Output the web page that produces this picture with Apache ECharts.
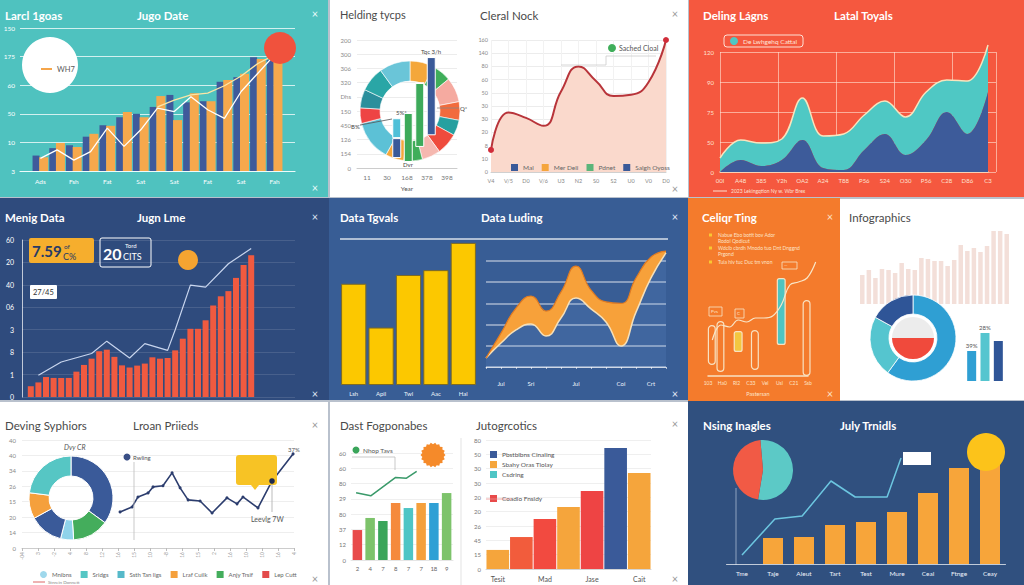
<!DOCTYPE html>
<html><head><meta charset="utf-8">
<script src="https://cdn.jsdelivr.net/npm/echarts@6/dist/echarts.min.js"></script>
<style>html,body{margin:0;padding:0;background:#b9c1cd;}#c{width:1024px;height:585px;}</style>
</head><body><div id="c"></div>
<script>
// ================= DATA =================
// Panel 1 (teal)
const p1Cats = ['Ads','','Fsh','','Fat','','Sat','','Sat','','Fat','','Sat','','Fah'];
const p1Navy = [27,40,45,60,80,94,100,112,133,120,122,156,164,199,194];
const p1Orange = [24,49,42,65,79,103,94,131,89,136,122,159,170,196,211];
const p1LineA = [22,37,19,34,75,43,72,110,104,130,107,92,139,171,203];
const p1LineB = [null,null,null,null,null,null,null,112,124,133,136,149,166,188,203];
const p1YLabels = ['3','10','50','60','175','150'];
// Panel 2 left (donut + bars)
const p2YLabels = ['0','154','126','450','150','Dhs','320','306','300','200'];
const p2Cats = ['11','30','168','378','398'];
const p2Donut = [8,6,8,6,5,7,6,6,6,13,5,6,8,10];
const p2BarCats = ['a','b','c','d'];
const p2BarBase = [0.7,0.42,1.48,2.3];
const p2BarLow = [1.4,3.45,4.5,5.5];
const p2BarHigh = [1.4,0,0,0];
// Panel 2 right (area line)
const p2bYLabels = ['0','10','8','20','30','30','50','60','80','140','160'];
const p2bCats = ['V4','V/5','D0','V/6','U3','N2','S0','S2','U0','V0','D0'];
const p2bVals = [1.67,4.5,4.1,3.5,6.1,8.0,6.9,5.75,5.85,6.8,10];
const p2bLegend = ['Mal','Mer Deli','Pdnet','Salgh Oyoss'];
// Panel 3 (red, stacked area)
const p3Cats = ['00l','A48','385','Y2h','OA2','A24','T88','P56','S24','O30','P56','C28','D86','C3'];
const p3Navy = [0,12,6,12,32,4,2,22,38,17,32,60,38,80];
const p3Teal = [14,20,23,21,42,32,36,35,33,38,48,32,53,47];
const p3YLabels = ['0','50','75','90','120'];
// Panel 4 (navy, red bars)
const p4Cats = ['1','2','3','4','5','6','7','8','9','10','11','12','13','14','15','16','17','18','19','20','21','22','23','24','25','26','27','28','29','30'];
const p4Bars = [0.48,0.65,0.89,0.85,0.85,0.85,1.13,1.43,1.71,2.04,2.11,1.79,1.41,1.32,1.40,1.49,1.77,1.71,1.74,2.08,2.60,3.04,3.04,3.42,4.08,4.49,4.72,5.31,5.88,6.32];
const p4Line = [null,0.97,null,null,1.56,null,null,null,1.94,null,2.49,null,null,1.74,null,2.38,null,null,2.08,3.0,null,4.99,null,4.9,null,null,5.94,null,null,6.62];
const p4YLabels = ['0','1','8','3','06','40','20','60'];
// Panel 5 (blue)
const p5Cats = ['Lsh','Apil','Twl','Aac','Hal'];
const p5Bars = [104,59,113,118,146];
const p5XLabels = ['','Jul','','Sri','','','Jul','','','Coi','','Crt',''];
const p5Upper = [0.42,1.6,2.78,3.35,2.64,3.54,4.76,3.63,3.07,3.0,4.2,5.19,5.47];
const p5Lower = [0.42,1.13,1.75,2.03,1.46,2.31,3.25,2.74,2.12,0.99,2.59,4.2,5.38];
// Panel 6 (orange)
const p6Cats = ['103','Ha0','Rl2','C33','Vel','Usl','C21','Ssb'];
const p6Fine = ['a','b','c','d','e','f','g','h','i','j','k','l','m'];
const p6Line = [36,51,49,56,54,58,58,60,71,91,94,98,114];
const p6OutBase = [11,4,0,0,0,6,0,0,0,0,0,0,0];
const p6OutH = [40,51,null,null,null,40,null,null,null,null,null,76,null];
const p6FillBase = [0,0,0,24,0,0,0,0,31,0,0,0,0];
const p6FillH = [null,null,null,21,null,null,null,null,67,null,null,null,null];
// Panel 7 (white infographic)
const p7Bars = [29,34,26,35,34,31,41,35,34,46,45,43,43,38,44,59,53,56,52,58,73,73,70];
const p7Donut = [60,23,17];
const p7Inner = [50,50];
const p7Small = [30,48,40];
const p7SmallLabels = ['39%','28%',''];
// Panel 8
const p8Donut = [35,14,5,13,10,23];
const p8YLabels = ['0','14','20','15','26','34','40','40'];
const p8XLabels = ['-04','3','-2','4','8','12','16','15','10','-8','16','15','2','16','10','10','16','4'];
const p8Line = [[6.13,2.34],[6.88,2.66],[7.25,3.31],[7.88,3.57],[8.19,3.96],[8.81,4.03],[9.38,4.87],[9.88,3.9],[10.38,3.12],[11.13,3.05],[11.88,2.27],[12.81,3.25],[13.44,2.86],[13.81,3.31],[14.75,2.6],[15.63,4.35],[16.94,6.1]];
const p8Legend = ['Mnibns','Sridgs','Ssth Tan ligs','Lraf Cuilk','Anjy Trsif','Lep Cutt'];
// Panel 9
const p9aCats = ['2','4','7','8','7','7','18','9'];
const p9aBars = [1.96,2.75,2.55,3.73,3.4,3.73,3.73,4.38];
const p9aLine = [[-0.1,4.4],[1.05,4.2],[3.0,5.4],[3.85,5.35],[4.65,5.8]];
const p9aYLabels = ['0','12','37','80','29','80','60','60'];
const p9bCats = ['Tesit','','Mad','','Jase','','Cait'];
const p9bBars = [1.33,2.23,3.49,4.33,5.44,8.44,6.7];
const p9bYLabels = ['0','15','45','26','20','20','30','30','50','80'];
const p9bLegend = ['Pbstblbns Cinaling','Sbahy Oras Tiolay','Csdring'];
const p9bLegend2 = ['Coadio Fnsidy'];
// Panel 10
const p10Cats = ['Tme','Taje','Aleut','Tart','Test','Mure','Ceal','Ftnge','Ceay'];
const p10Bars = [null,26,27,39,42,52,71,96,102];
const p10Line = [[0,9],[1.06,45],[1.94,48],[2.87,83],[3.65,67],[4.68,67],[5.13,106]];
const p10Pie = [54,46];

// ================= HELPERS =================
const FONT = 'Lato, "Open Sans", "DejaVu Sans", sans-serif';
const grid=[], xAxis=[], yAxis=[], series=[], title=[], legend=[], graphic=[];
function G(o){grid.push(o);return grid.length-1;}
function X(o){xAxis.push(o);return xAxis.length-1;}
function Y(o){yAxis.push(o);return yAxis.length-1;}
function hideCat(g,data,extra){return X(Object.assign({gridIndex:g,type:'category',data:data,show:false},extra||{}));}
function hideVal(g,min,max){return X({gridIndex:g,type:'value',min:min,max:max,show:false});}
function hideY(g,min,max){return Y({gridIndex:g,type:'value',min:min,max:max,show:false});}
function txt(x,y,text,size,color,extra){graphic.push({type:'text',x:x,y:y,z:40,silent:true,style:Object.assign({text:text,fontSize:size,fill:color,fontFamily:FONT,verticalAlign:'middle',align:'left'},extra||{})});}
function rect(x,y,w,h,style,r,z){graphic.push({type:'rect',shape:{x:x,y:y,width:w,height:h,r:r||0},style:style,z:(z===undefined?30:z),silent:true});}
function circ(cx,cy,r,fill,z){graphic.push({type:'circle',shape:{cx:cx,cy:cy,r:r},style:{fill:fill},z:(z===undefined?30:z),silent:true});}
function pline(pts,stroke,w,z){graphic.push({type:'polyline',shape:{points:pts},style:{stroke:stroke,lineWidth:w||1,fill:null},z:(z===undefined?30:z),silent:true});}
function closeX(x,y,color){txt(x,y,'×',11,color,{align:'center'});}
function ttl(x,y,text,color,bold,size){title.push({text:text,left:x,top:y,padding:0,textStyle:{color:color,fontSize:size||11.5,fontWeight:bold?'bold':'normal',fontFamily:FONT}});}
const lab = (arr)=> (v)=> { const s = arr[Math.round(v)]; return s===undefined?'':s; };

// dummy grid for legend-only series
const gD = G({left:-200,top:-200,width:10,height:10});
const xD = hideCat(gD,['a']); const yD = hideY(gD,0,1);
function dummy(name,color){series.push({type:'bar',name:name,data:[],xAxisIndex:xD,yAxisIndex:yD,itemStyle:{color:color}});}

// ================= PANELS BACKGROUND =================
const panels = [
 [0,0,328,197,'#4fc2bf'],
 [330,0,358,197,'#ffffff'],
 [689,0,335,197,'#f5583f'],
 [0,198,329,202,'#2f4b7d'],
 [329,198,359,202,'#385d95'],
 [688,198,152,203,'#f47b2c'],
 [840,199,184,201,'#ffffff'],
 [0,402,328,183,'#ffffff'],
 [330,402,358,183,'#ffffff'],
 [688,401,336,184,'#30507f']
];
panels.forEach(p=>rect(p[0],p[1],p[2],p[3],{fill:p[4]},0,-100));

// ================= PANEL 1 =================
ttl(5,9,'Larcl 1goas','#ffffff',true);
ttl(137,9,'Jugo Date','#ffffff',true);
closeX(315,13,'#e8fbfa'); closeX(315,187,'#e8fbfa');
{
 const g = G({left:20,top:28,width:275,height:143});
 X({gridIndex:g,type:'category',data:p1Cats,axisLine:{lineStyle:{color:'#eefcfb',width:1.2}},axisTick:{show:false},axisLabel:{show:false},splitLine:{show:false}});
 Y({gridIndex:g,type:'value',min:0,max:250,interval:50,axisLine:{show:false},axisTick:{show:false},
   axisLabel:{color:'#ffffff',fontSize:6.5,margin:5,fontFamily:FONT,formatter:(v)=>p1YLabels[Math.round(v/50)]},
   splitLine:{lineStyle:{color:'rgba(255,255,255,0.75)',width:1}}});
 const g2 = G({left:32,top:28,width:251,height:143});
 const xa = X({gridIndex:g2,type:'category',data:p1Cats,axisLine:{show:false},axisTick:{show:false},axisLabel:{color:'#ffffff',fontSize:6.5,interval:0,margin:7,fontFamily:FONT}});
 const ya = hideY(g2,0,250);
 series.push({type:'bar',xAxisIndex:xa,yAxisIndex:ya,data:p1Navy,barWidth:7,barGap:'-5%',itemStyle:{color:'#3f5a9b'}});
 series.push({type:'bar',xAxisIndex:xa,yAxisIndex:ya,data:p1Orange,barWidth:9,barGap:'-5%',itemStyle:{color:'#f6a84c'}});
 series.push({type:'line',name:'WH7',xAxisIndex:xa,yAxisIndex:ya,data:p1LineA,symbol:'none',connectNulls:true,lineStyle:{color:'#ffffff',width:1.3},itemStyle:{color:'#f5a54a'},z:5});
 series.push({type:'line',xAxisIndex:xa,yAxisIndex:ya,data:p1LineB,symbol:'none',lineStyle:{color:'#fbe6a6',width:1.3},z:5});
 circ(50,65,28,'#ffffff',20);
 legend.push({left:36,top:60,selectedMode:false,z:30,data:[{name:'WH7',icon:'rect',itemStyle:{color:'#f5a54a'}}],itemWidth:11,itemHeight:2,itemGap:4,textStyle:{color:'#5a5a5a',fontSize:7.5,fontFamily:FONT}});
 circ(280,48,16,'#f0523d',35);
}

// ================= PANEL 2 =================
ttl(340,9,'Helding tycps','#4a4a4a',false,11);
ttl(480,9,'Cleral Nock','#4a4a4a',false,11.5);
closeX(675,13,'#9a9a9a'); closeX(675,188,'#9a9a9a');
{
 const g = G({left:357,top:40,width:100,height:128});
 X({gridIndex:g,type:'category',data:p2Cats,axisLine:{lineStyle:{color:'#cccccc'}},axisTick:{show:false},
   axisLabel:{color:'#777',fontSize:6.5,margin:6,fontFamily:FONT},name:'Year',nameLocation:'middle',nameGap:17,nameTextStyle:{color:'#555',fontSize:6.5,fontFamily:FONT}});
 Y({gridIndex:g,type:'value',min:0,max:9,interval:1,axisLine:{show:false},axisTick:{show:false},
   axisLabel:{color:'#8a8a8a',fontSize:6,margin:6,fontFamily:FONT,formatter:lab(p2YLabels)},splitLine:{lineStyle:{color:'#ececec'}}});
 const donutColors = ['#f4a73b','#3fae5a','#f5aaa0','#f26b3d','#26a0a0','#ef4b3c','#f5b8b0','#3fae5a','#f4a73b','#5cc1d6','#ee4444','#2b8f9c','#2aa6a6','#6ac5d8'];
 series.push({type:'pie',center:[410,111],radius:[30,50],startAngle:90,silent:true,label:{show:false},labelLine:{show:false},
   itemStyle:{borderColor:'#ffffff',borderWidth:0.6},
   data:p2Donut.map((v,i)=>({name:'d'+i,value:v,itemStyle:{color:donutColors[i]}}))});
 const gb = G({left:391,top:40,width:46,height:128});
 const xb = hideCat(gb,p2BarCats); const yb = hideY(gb,0,9);
 const lowColors = ['#3a5a99','#3daa5a','#3daa5a','#3a5a99'];
 series.push({type:'bar',stack:'p2',xAxisIndex:xb,yAxisIndex:yb,data:p2BarBase,barWidth:9,itemStyle:{color:'rgba(0,0,0,0)'},z:4});
 series.push({type:'bar',stack:'p2',xAxisIndex:xb,yAxisIndex:yb,barWidth:9,z:4,itemStyle:{borderColor:'#ffffff',borderWidth:1},
   data:p2BarLow.map((v,i)=>({value:v,itemStyle:{color:lowColors[i]}}))});
 series.push({type:'bar',stack:'p2',xAxisIndex:xb,yAxisIndex:yb,barWidth:9,z:4,data:p2BarHigh,itemStyle:{color:'#4fc0d8',borderColor:'#ffffff',borderWidth:1}});
 txt(421,51,'Tqc 3/h',6,'#444');
 txt(396,112,'5%*',6,'#444');
 txt(403,164,'Dvr',6,'#444');
 txt(460,108,'Q*',6,'#444');
 txt(351,126,'B%',6,'#444');
 pline([[360,125],[392,119]],'#555',0.8);
 pline([[437,108],[459,108]],'#888',0.8);

 // right
 const g3 = G({left:491,top:40,width:175,height:132});
 const x3 = X({gridIndex:g3,type:'category',boundaryGap:false,data:p2bCats,axisLine:{lineStyle:{color:'#d0d0d0'}},axisTick:{show:false},
   axisLabel:{color:'#888',fontSize:5.5,margin:6,fontFamily:FONT},splitLine:{show:true,lineStyle:{color:'#f2f2f2'}}});
 const y3 = Y({gridIndex:g3,type:'value',min:0,max:10,interval:1,axisLine:{show:false},axisTick:{show:false},
   axisLabel:{color:'#8a8a8a',fontSize:5.5,margin:3,fontFamily:FONT,formatter:lab(p2bYLabels)},splitLine:{lineStyle:{color:'#ececec'}}});
 series.push({type:'line',xAxisIndex:x3,yAxisIndex:y3,smooth:0.5,symbol:'none',showAllSymbol:true,clip:false,
   lineStyle:{color:'#b8343a',width:2},areaStyle:{color:'#fad9cc',opacity:1},itemStyle:{color:'#d12d3a'},
   data:p2bVals.map((v,i)=> (i===0||i===p2bVals.length-1)?{value:v,symbol:'circle',symbolSize:6}:v)});
 const legC = ['#3a5a99','#f5a53c','#5bb57a','#3a5a99'];
 p2bLegend.forEach((n,i)=>dummy(n,legC[i]));
 legend.push({left:506,top:159,selectedMode:false,data:p2bLegend,icon:'rect',itemWidth:7,itemHeight:7,itemGap:8,textStyle:{color:'#666',fontSize:6.5,fontFamily:FONT}});
 circ(612,48,4,'#3fae5a');
 txt(619,48,'Sached Cloal',7,'#555');
 pline([[656,56],[606,56],[606,65],[561,65]],'#cccccc',0.8);
}

// ================= PANEL 3 =================
ttl(703,9,'Deling Lágns','#ffffff',true);
ttl(834,9,'Latal Toyals','#ffffff',true);
{
 const g = G({left:720,top:52,width:276,height:120});
 X({gridIndex:g,type:'value',min:0,max:276,interval:58,axisLine:{show:false},axisTick:{show:false},axisLabel:{show:false},
   splitLine:{show:true,lineStyle:{color:'rgba(255,230,215,0.6)'}}});
 Y({gridIndex:g,type:'value',min:0,max:120,interval:30,axisLine:{show:false},axisTick:{show:false},
   axisLabel:{color:'#fde2d2',fontSize:6,margin:6,fontFamily:FONT,formatter:(v)=>p3YLabels[Math.round(v/30)]},
   splitLine:{lineStyle:{color:'rgba(255,230,215,0.6)'}}});
 const g2 = G({left:720,top:52,width:268,height:120});
 const xa = X({gridIndex:g2,type:'category',boundaryGap:false,data:p3Cats,axisLine:{lineStyle:{color:'#f8dcc0',width:1.5}},axisTick:{show:false},
   axisLabel:{color:'#fde2d2',fontSize:6,margin:5,interval:0,fontFamily:FONT}});
 const ya = hideY(g2,0,120);
 series.push({type:'line',stack:'p3',xAxisIndex:xa,yAxisIndex:ya,data:p3Navy,smooth:0.4,symbol:'none',clip:false,
   lineStyle:{width:0,color:'#3d5b9a'},areaStyle:{color:'#3d5b9a',opacity:1},itemStyle:{color:'#3d5b9a'},z:3});
 series.push({type:'line',name:'De Lwhgehq Cattal',stack:'p3',xAxisIndex:xa,yAxisIndex:ya,data:p3Teal,smooth:0.4,symbol:'none',clip:false,
   lineStyle:{width:1.5,color:'#f8e4bd'},areaStyle:{color:'#4fc8c4',opacity:1},itemStyle:{color:'#4fc8c4'},z:2});
 legend.push({left:724,top:35,selectedMode:false,data:['De Lwhgehq Cattal'],icon:'circle',itemWidth:8,itemHeight:8,
   borderColor:'rgba(255,240,230,0.9)',borderWidth:1,borderRadius:3,padding:[2,6],textStyle:{color:'#fde7d9',fontSize:6.5,fontFamily:FONT}});
 pline([[713,191],[727,191]],'#fde2d2',1);
 txt(731,191,'2023 Lekingqtion Ny w. Wbr Brex',5,'#fde2d2');
}

// ================= PANEL 4 =================
ttl(5,211,'Menig Data','#ffffff',true);
ttl(137,211,'Jugn Lme','#ffffff',true);
closeX(315,216,'#dfe6f3'); closeX(315,393,'#dfe6f3');
{
 const g = G({left:22,top:240,width:273,height:157});
 X({gridIndex:g,type:'category',data:['a'],show:false});
 Y({gridIndex:g,type:'value',min:0,max:7,interval:1,axisLine:{show:true,lineStyle:{color:'rgba(255,255,255,0.7)'}},axisTick:{show:false},
   axisLabel:{color:'#ffffff',fontSize:7,margin:8,fontFamily:FONT,formatter:lab(p4YLabels)},splitLine:{lineStyle:{color:'rgba(255,255,255,0.12)'}}});
 const g2 = G({left:27,top:240,width:228,height:157});
 const xa = hideCat(g2,p4Cats); const ya = hideY(g2,0,7);
 series.push({type:'bar',xAxisIndex:xa,yAxisIndex:ya,data:p4Bars,barWidth:6,itemStyle:{color:'#f05a40'}});
 series.push({type:'line',xAxisIndex:xa,yAxisIndex:ya,data:p4Line,connectNulls:true,symbol:'none',lineStyle:{color:'#c8d5ee',width:1.2},z:5});
 rect(29,238,65,25,{fill:'#f6ae2d'},2);
 txt(32,251,'7.59',15,'#263a66',{fontWeight:'bold'});
 txt(64,246,'of',6.5,'#263a66');
 txt(63,256,'C%',9,'#263a66');
 rect(100,238,51,29,{fill:null,stroke:'#ffffff',lineWidth:1},2);
 txt(103,253,'20',16,'#ffffff',{fontWeight:'bold'});
 txt(125,245,'Tord',6,'#ffffff');
 txt(123,256,'CITS',9,'#ffffff');
 circ(188,260,10,'#f5a431');
 rect(30,285,27,14,{fill:'#ffffff'},1);
 txt(33,292,'27/45',7.5,'#333');
}

// ================= PANEL 5 =================
ttl(340,211,'Data Tgvals','#ffffff',true);
ttl(481,211,'Data Luding','#ffffff',true);
closeX(675,216,'#e3eaf6'); closeX(675,393,'#e3eaf6');
pline([[340,239],[668,239]],'rgba(255,255,255,0.8)',1.5);
{
 const g = G({left:340,top:239,width:137,height:146});
 const xa = X({gridIndex:g,type:'category',data:p5Cats,axisLine:{show:false},axisTick:{show:false},axisLabel:{color:'#eef3fb',fontSize:6,margin:5,fontFamily:FONT}});
 const ya = hideY(g,0,150);
 series.push({type:'bar',xAxisIndex:xa,yAxisIndex:ya,data:p5Bars,barCategoryGap:'8%',itemStyle:{color:'#fcc800',borderColor:'#7d6b24',borderWidth:1}});
 const g2 = G({left:486,top:261,width:180,height:106});
 const xb = X({gridIndex:g2,type:'category',boundaryGap:false,data:p5XLabels,offset:7,axisLine:{lineStyle:{color:'rgba(255,255,255,0.6)'}},
   axisTick:{show:true,interval:0,length:2,lineStyle:{color:'rgba(255,255,255,0.6)'}},axisLabel:{color:'#eef3fb',fontSize:6,margin:6,interval:0,fontFamily:FONT}});
 const yb = Y({gridIndex:g2,type:'value',min:0,max:5,interval:1,axisLine:{show:false},axisTick:{show:false},axisLabel:{show:false},
   splitLine:{lineStyle:{color:'rgba(255,255,255,0.55)',width:1.5}}});
 const band = p5Upper.map((u,i)=>+(u-p5Lower[i]).toFixed(2));
 series.push({type:'line',stack:'p5',xAxisIndex:xb,yAxisIndex:yb,data:p5Lower,smooth:0.5,symbol:'none',clip:false,
   lineStyle:{color:'#f6e0b8',width:1.5},areaStyle:{color:'rgba(120,170,230,0.18)'},z:3});
 series.push({type:'line',stack:'p5',xAxisIndex:xb,yAxisIndex:yb,data:band,smooth:0.5,symbol:'none',clip:false,
   lineStyle:{color:'#e07b22',width:1.2},areaStyle:{color:'#f7a13a',opacity:1},z:3});
}

// ================= PANEL 6 =================
ttl(702,211,'Celiqr Ting','#ffffff',true);
closeX(830,216,'#fde3c8'); closeX(830,393,'#fde3c8');
{
 const bullets = [[235,'1','Nabue Ebo botit bov Ador'],[241,'','Rodol Qodicut'],[248,'2','Wdclb cbrdh Mnodo tuo Dnt Dnggnd'],[254,'','Prgond'],[262,'3','Tuia hiv tuc Duc tm vnon']];
 bullets.forEach(b=>{ if(b[1]) rect(709,b[0]-1.5,3,3,{fill:'#f9c732'}); txt(718,b[0],b[2],5,'#fde3c8'); });
 const g = G({left:708,top:260,width:100,height:116});
 X({gridIndex:g,type:'category',boundaryGap:false,data:p6Cats,axisLine:{lineStyle:{color:'#f8e2c2',width:1.5}},axisTick:{show:false},
   axisLabel:{color:'#fde3c8',fontSize:5,margin:4,interval:0,fontFamily:FONT},name:'Pastersan',nameLocation:'middle',nameGap:15,nameTextStyle:{color:'#fde3c8',fontSize:5.5,fontFamily:FONT}});
 Y({gridIndex:g,type:'value',min:0,max:116,show:false});
 const g2 = G({left:708,top:260,width:112,height:116});
 const xa = hideCat(g2,p6Fine); const ya = hideY(g2,0,116);
 series.push({type:'bar',stack:'o',xAxisIndex:xa,yAxisIndex:ya,data:p6OutBase,barWidth:8,barGap:'-100%',itemStyle:{color:'rgba(0,0,0,0)'}});
 series.push({type:'bar',stack:'o',xAxisIndex:xa,yAxisIndex:ya,data:p6OutH,barWidth:8,barGap:'-100%',itemStyle:{color:'rgba(0,0,0,0)',borderColor:'#f8e2c2',borderWidth:1.2,borderRadius:4}});
 series.push({type:'bar',stack:'f',xAxisIndex:xa,yAxisIndex:ya,data:p6FillBase,barWidth:9,barGap:'-100%',itemStyle:{color:'rgba(0,0,0,0)'}});
 const fillC = {3:'#f3c640',8:'#4fc4c0'};
 series.push({type:'bar',stack:'f',xAxisIndex:xa,yAxisIndex:ya,barWidth:9,barGap:'-100%',z:4,
   data:p6FillH.map((v,i)=>v==null?null:{value:v,itemStyle:{color:fillC[i]}}),itemStyle:{borderColor:'#f8e2c2',borderWidth:1.2,borderRadius:2}});
 series.push({type:'line',xAxisIndex:xa,yAxisIndex:ya,data:p6Line,smooth:0.4,symbol:'none',clip:false,lineStyle:{color:'#f8e6c8',width:1.2},z:5});
 rect(709,307,13,9,{fill:null,stroke:'#f8e6c8',lineWidth:0.8});
 txt(711,311.5,'Pvs',4.5,'#fde3c8');
 rect(735,309,9,9,{fill:null,stroke:'#f8e6c8',lineWidth:0.8});
 txt(737,313.5,'C',4.5,'#fde3c8');
 rect(782,262,15,7,{fill:null,stroke:'#f8e6c8',lineWidth:0.8});
 txt(784,265.5,'—',4.5,'#fde3c8');
}

// ================= PANEL 7 =================
ttl(849,211,'Infographics','#4a4a4a',false,11.5);
{
 const g = G({left:859,top:228,width:151,height:76});
 const xa = hideCat(g,p7Bars.map((_,i)=>String(i)));
 const ya = hideY(g,0,76);
 series.push({type:'bar',xAxisIndex:xa,yAxisIndex:ya,data:p7Bars,barWidth:4.5,itemStyle:{color:'#f3dfd9'}});
 const dc = ['#2f9fd3','#55c5cf','#2f5597'];
 series.push({type:'pie',center:[913,338],radius:[24,43],startAngle:90,silent:true,label:{show:false},labelLine:{show:false},
   itemStyle:{borderColor:'#ffffff',borderWidth:0.8},data:p7Donut.map((v,i)=>({name:'q'+i,value:v,itemStyle:{color:dc[i]}}))});
 const ic = ['#ececec','#f04a3c'];
 series.push({type:'pie',center:[913,338],radius:[0,21],startAngle:180,silent:true,label:{show:false},labelLine:{show:false},
   itemStyle:{borderColor:'#ffffff',borderWidth:0},data:p7Inner.map((v,i)=>({name:'r'+i,value:v,itemStyle:{color:ic[i]}}))});
 const g2 = G({left:965,top:300,width:40,height:81});
 const xb = hideCat(g2,['A','B','C']); const yb = hideY(g2,0,81);
 series.push({type:'bar',xAxisIndex:xb,yAxisIndex:yb,barWidth:9,
   data:p7Small.map((v,i)=>({value:v,itemStyle:{color:dc[i]}})),
   label:{show:true,position:'top',distance:3,fontSize:6,color:'#555',fontFamily:FONT,formatter:(p)=>p7SmallLabels[p.dataIndex]}});
}

// ================= PANEL 8 =================
ttl(5,419,'Deving Syphiors','#4a4a4a',false,11.5);
ttl(133,419,'Lroan Priieds','#4a4a4a',false,11.5);
closeX(315,424,'#999'); closeX(315,578,'#999');
{
 const g = G({left:22,top:440,width:272,height:108});
 X({gridIndex:g,type:'category',boundaryGap:false,data:p8XLabels,axisLine:{lineStyle:{color:'#cccccc'}},axisTick:{show:true,length:3,lineStyle:{color:'#bbbbbb'}},
   axisLabel:{color:'#999',fontSize:5,rotate:90,margin:4,interval:0,fontFamily:FONT}});
 Y({gridIndex:g,type:'value',min:0,max:7,interval:1,axisLine:{show:false},axisTick:{show:false},
   axisLabel:{color:'#888',fontSize:6,margin:6,fontFamily:FONT,formatter:lab(p8YLabels)},splitLine:{lineStyle:{color:'#eeeeee'}}});
 const xv = hideVal(g,0,17); const yv = hideY(g,0,7);
 series.push({type:'line',xAxisIndex:xv,yAxisIndex:yv,data:p8Line,symbol:'circle',symbolSize:3,showSymbol:true,
   lineStyle:{color:'#2c3d6e',width:1.6},itemStyle:{color:'#2c3d6e'},z:5});
 const dc = ['#3a5a99','#44ad5c','#8fd3ea','#3a5a99','#f5a03c','#56c6c4'];
 series.push({type:'pie',center:[71,498],radius:[22,42],startAngle:90,silent:true,label:{show:false},labelLine:{show:false},
   itemStyle:{borderColor:'#ffffff',borderWidth:1},data:p8Donut.map((v,i)=>({name:'s'+i,value:v,itemStyle:{color:dc[i]}}))});
 txt(64,447,'Dvy CR',7,'#555',{fontStyle:'italic'});
 const lc = ['#9fd8ec','#56c6c4','#56b9c9','#f5a03c','#44ad5c','#e34b4b'];
 p8Legend.forEach((n,i)=>dummy(n,lc[i]));
 legend.push({left:35,top:566,selectedMode:false,data:p8Legend.map((n,i)=>i===0?{name:n,icon:'circle'}:n),icon:'rect',itemWidth:7,itemHeight:7,itemGap:9,textStyle:{color:'#666',fontSize:6,fontFamily:FONT}});
 pline([[33,582],[45,582]],'#d66',1);
 txt(48,582,'Stnrein Donnett',4.5,'#888');
 pline([[134,462],[134,540]],'#bbbbbb',0.8);
 circ(127,457,3.5,'#3a4f86');
 txt(133,457,'Rwling',6,'#555');
 rect(236,455,41,30,{fill:'#f7c325'},3,25);
 graphic.push({type:'polygon',shape:{points:[[251,485],[259,485],[255,490]]},style:{fill:'#f7c325'},z:25,silent:true});
 pline([[272,481],[272,512]],'#aaaaaa',0.8);
 circ(272,481,2.8,'#1f2b4d',45);
 txt(251,519,'Leevlg 7W',7,'#555');
 txt(288,449,'37%',6,'#555');
}

// ================= PANEL 9 =================
ttl(340,419,'Dast Fogponabes','#4a4a4a',false,11.5);
ttl(476,419,'Jutogrcotics','#4a4a4a',false,11.5);
closeX(675,423,'#999'); closeX(675,578,'#999');
pline([[461,438],[461,585]],'#e3e3e3',1);
{
 const g = G({left:351,top:453,width:102,height:107});
 const xa = X({gridIndex:g,type:'category',data:p9aCats,axisLine:{lineStyle:{color:'#e5e5e5'}},axisTick:{show:false},axisLabel:{color:'#666',fontSize:6,margin:5,fontFamily:FONT}});
 const ya = Y({gridIndex:g,type:'value',min:0,max:7,interval:1,axisLine:{show:false},axisTick:{show:false},
   axisLabel:{color:'#777',fontSize:6,margin:5,fontFamily:FONT,formatter:lab(p9aYLabels)},splitLine:{lineStyle:{color:'#efefef'}}});
 const bc = ['#e84a4a','#7dc36b','#3aa55a','#f58a3c','#4ec5c5','#f5a03c','#2fa0d5','#7dc36b'];
 series.push({type:'bar',xAxisIndex:xa,yAxisIndex:ya,barWidth:9.5,data:p9aBars.map((v,i)=>({value:v,itemStyle:{color:bc[i]}}))});
 const xv = hideVal(g,-0.5,7.5);
 series.push({type:'line',xAxisIndex:xv,yAxisIndex:ya,data:p9aLine,symbol:'none',lineStyle:{color:'#3a9a6a',width:1.5},z:5});
 circ(356,450,3.5,'#3aa55a');
 txt(363,450,'Nhop Tavs',6.5,'#555');
 pline([[352,457],[395,457],[395,470]],'#bbbbbb',0.8);
 const pts=[]; for(let k=0;k<36;k++){const a=k*Math.PI/18; const r=(k%2===0)?12.5:10.8; pts.push([433+r*Math.cos(a),455+r*Math.sin(a)]);}
 graphic.push({type:'polygon',shape:{points:pts},style:{fill:'#f58a2a'},z:30,silent:true});

 const g2 = G({left:486,top:440,width:165,height:129});
 const xb = X({gridIndex:g2,type:'category',data:p9bCats,axisLine:{lineStyle:{color:'#d5d5d5'}},axisTick:{show:false},axisLabel:{color:'#555',fontSize:7,margin:6,interval:0,fontFamily:FONT}});
 const yb = Y({gridIndex:g2,type:'value',min:0,max:9,interval:1,axisLine:{show:false},axisTick:{show:false},
   axisLabel:{color:'#777',fontSize:6,margin:5,fontFamily:FONT,formatter:lab(p9bYLabels)},splitLine:{lineStyle:{color:'#efefef'}}});
 const bc2 = ['#f5a53c','#f25c3c','#f24a40','#f5a53c','#ee4444','#3a5a99','#f5a53c'];
 series.push({type:'bar',xAxisIndex:xb,yAxisIndex:yb,barCategoryGap:'4%',data:p9bBars.map((v,i)=>({value:v,itemStyle:{color:bc2[i]}}))});
 const lc = ['#3a5a99','#f5a53c','#4ec5c5'];
 p9bLegend.forEach((n,i)=>dummy(n,lc[i]));
 dummy(p9bLegend2[0],'#e84a4a');
 legend.push({left:485,top:446,orient:'vertical',selectedMode:false,data:p9bLegend,icon:'rect',itemWidth:7,itemHeight:7,itemGap:3,textStyle:{color:'#555',fontSize:6.5,fontFamily:FONT}});
 legend.push({left:485,top:490,orient:'vertical',selectedMode:false,data:p9bLegend2,icon:'rect',itemWidth:7,itemHeight:7,textStyle:{color:'#555',fontSize:6.5,fontFamily:FONT}});
 pline([[486,499],[512,499]],'#e89090',0.8);
}

// ================= PANEL 10 =================
ttl(703,419,'Nsing Inagles','#ffffff',true);
ttl(840,419,'July Trnidls','#ffffff',true);
{
 series.push({type:'pie',center:[763,470],radius:[0,30],startAngle:95,silent:true,label:{show:false},labelLine:{show:false},
   data:p10Pie.map((v,i)=>({name:'t'+i,value:v,itemStyle:{color:['#5cc9c6','#f15a45'][i]}}))});
 pline([[736,488],[736,565]],'rgba(220,230,245,0.7)',0.8);
 const g = G({left:726.5,top:440,width:279,height:124});
 const xa = X({gridIndex:g,type:'category',data:p10Cats,axisLine:{lineStyle:{color:'rgba(255,255,255,0.7)'}},axisTick:{show:false},
   axisLabel:{color:'#eef3fb',fontSize:6.5,margin:6,interval:0,fontFamily:FONT}});
 const ya = hideY(g,0,124);
 series.push({type:'bar',xAxisIndex:xa,yAxisIndex:ya,data:p10Bars,barWidth:20,itemStyle:{color:'#f7a53a'}});
 const xv = hideVal(g,-0.5,8.5);
 series.push({type:'line',xAxisIndex:xv,yAxisIndex:ya,data:p10Line,symbol:'none',lineStyle:{color:'#6cc6e0',width:1.5},z:5});
 rect(903,452,28,13,{fill:'#ffffff'},0);
 circ(986,452,19,'#fcc31a',35);
}

// ================= RENDER =================
const chart = echarts.init(document.getElementById('c'), null, {renderer:'svg'});
chart.setOption({animation:false, backgroundColor:'transparent', textStyle:{fontFamily:FONT},
  title:title, grid:grid, xAxis:xAxis, yAxis:yAxis, series:series, legend:legend, graphic:graphic, tooltip:{show:false}});
</script></body></html>
